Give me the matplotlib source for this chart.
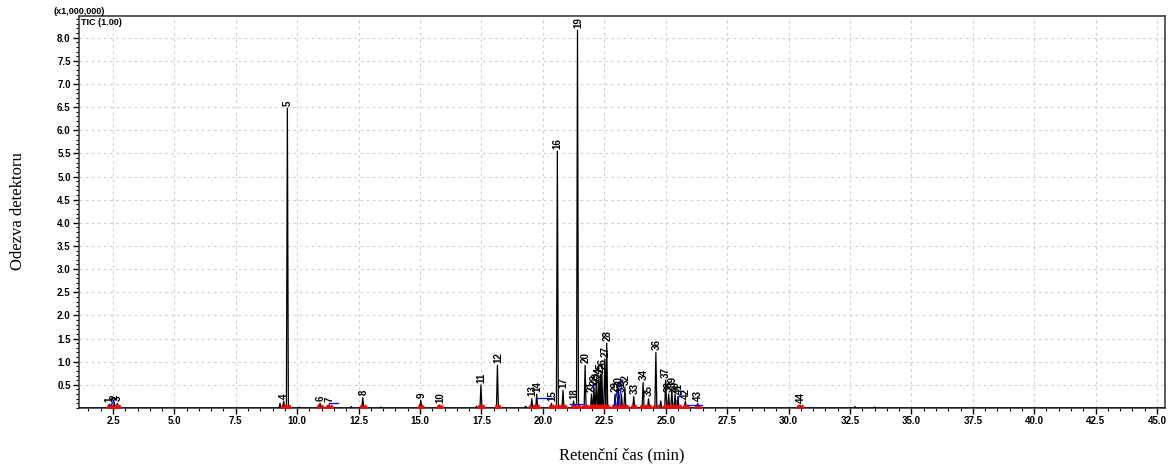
import numpy as np
import matplotlib
matplotlib.use("Agg")
import matplotlib.pyplot as plt
from matplotlib.ticker import MultipleLocator, FixedLocator

# ---- data (retention time in min, height in x1,000,000) ----
peak_labels = [str(i) for i in range(1, 45)]
peak_rt = [2.35, 2.55, 2.68, 9.45, 9.60, 10.93, 11.30, 12.67, 15.03, 15.80,
           17.48, 18.15, 19.55, 19.75, 20.35, 20.59, 20.82, 21.25, 21.41, 21.72,
           21.98, 22.08, 22.17, 22.26, 22.33, 22.40, 22.52, 22.60, 22.94, 23.07,
           23.20, 23.34, 23.70, 24.08, 24.30, 24.60, 25.00, 25.12, 25.25, 25.38,
           25.50, 25.80, 26.30, 30.47]
peak_height = [0.08, 0.12, 0.10, 0.15, 6.48, 0.10, 0.07, 0.22, 0.17, 0.06,
               0.50, 0.92, 0.20, 0.30, 0.10, 5.55, 0.38, 0.15, 8.16, 0.92,
               0.30, 0.45, 0.50, 0.60, 0.70, 0.80, 1.05, 1.40, 0.30, 0.40,
               0.30, 0.45, 0.25, 0.55, 0.20, 1.20, 0.60, 0.30, 0.40, 0.30,
               0.25, 0.15, 0.10, 0.06]
minor_rt = [9.30, 10.10, 12.20, 13.40, 17.30, 19.30, 24.80, 32.70, 33.50]
minor_height = [0.10, 0.02, 0.03, 0.02, 0.04, 0.04, 0.15, 0.03, 0.02]

# blue integration baselines (t0, h0, t1, h1)
base_t0 = [2.40, 11.30, 19.73, 21.10, 21.95, 22.90, 23.05, 25.45, 25.90]
base_h0 = [0.05, 0.10, 0.22, 0.08, 0.40, 0.05, 0.05, 0.15, 0.07]
base_t1 = [2.60, 11.65, 20.36, 21.60, 22.25, 23.10, 23.25, 25.65, 26.47]
base_h1 = [0.20, 0.10, 0.22, 0.08, 0.60, 0.55, 0.60, 0.35, 0.07]

xticks = [2.5 * i for i in range(1, 19)]
yticks = [0.5 * i for i in range(1, 17)]

# ---- figure ----
fig = plt.figure(figsize=(11.71, 4.70), dpi=100)
ax = fig.add_axes([0.0675, 0.132, 0.9275, 0.834])

# build trace from peaks
w = 0.04
all_rt = list(peak_rt) + list(minor_rt)
all_h = list(peak_height) + list(minor_height)
order = np.argsort(all_rt)
tx = [1.0]
ty = [0.0]
for i in order:
    tx += [all_rt[i] - w, all_rt[i], all_rt[i] + w]
    ty += [0.0, all_h[i], 0.0]
tx.append(45.4)
ty.append(0.0)
ax.plot(tx, ty, color="black", lw=0.9, zorder=3)

# red peak start/end markers
for t in peak_rt:
    ax.plot([t - 0.07, t + 0.07], [0.05, 0.05], ls="none", marker="^",
            ms=2.2, color="red", zorder=4, clip_on=False)

# blue baselines
for a, b, c, d in zip(base_t0, base_h0, base_t1, base_h1):
    ax.plot([a, c], [b, d], color="blue", lw=0.9, zorder=4)

# peak labels
for lab, t, h in zip(peak_labels, peak_rt, peak_height):
    ax.text(t + 0.02, h + 0.05, lab, rotation=90, ha="center", va="bottom",
            fontsize=7, fontweight="bold", family="Liberation Sans",
            clip_on=False, zorder=5)

ax.set_xlim(1.12, 45.33)
ax.set_ylim(0, 8.47)
ax.xaxis.set_major_locator(FixedLocator(xticks))
ax.yaxis.set_major_locator(FixedLocator(yticks))
ax.xaxis.set_minor_locator(MultipleLocator(0.5))
ax.yaxis.set_minor_locator(MultipleLocator(0.1))
ax.set_xticklabels([f"{v:.1f}" for v in xticks])
ax.set_yticklabels([f"{v:.1f}" for v in yticks])
for lbl in ax.get_xticklabels() + ax.get_yticklabels():
    lbl.set_fontsize(7)
    lbl.set_fontweight("bold")
    lbl.set_family("Liberation Sans")
ax.tick_params(axis="both", which="major", direction="out", length=4, width=1, pad=2)
ax.tick_params(axis="both", which="minor", direction="out", length=2, width=0.8)
ax.grid(True, which="major", ls=(0, (2.5, 3)), color="#cfcfcf", lw=0.8, zorder=0)
for s in ax.spines.values():
    s.set_color("#404040")
    s.set_linewidth(1.2)

fig.text(79 / 1171, 1 - 11 / 470, "(x1,000,000)", ha="center", va="center",
         fontsize=6.5, fontweight="bold", family="Liberation Sans")
ax.text(0.002, 0.995, "TIC (1.00)", transform=ax.transAxes, ha="left", va="top",
        fontsize=6.5, fontweight="bold", family="Liberation Sans")

fig.text(18 / 1171, 0.5 + 0.05, "Odezva detektoru", rotation=90, ha="center",
         va="center", fontsize=12, family="Liberation Serif")
fig.text(622 / 1171, 1 - 455 / 470, "Retenční čas (min)", ha="center",
         va="center", fontsize=12, family="Liberation Serif")

fig.savefig("out.png", dpi=100)
